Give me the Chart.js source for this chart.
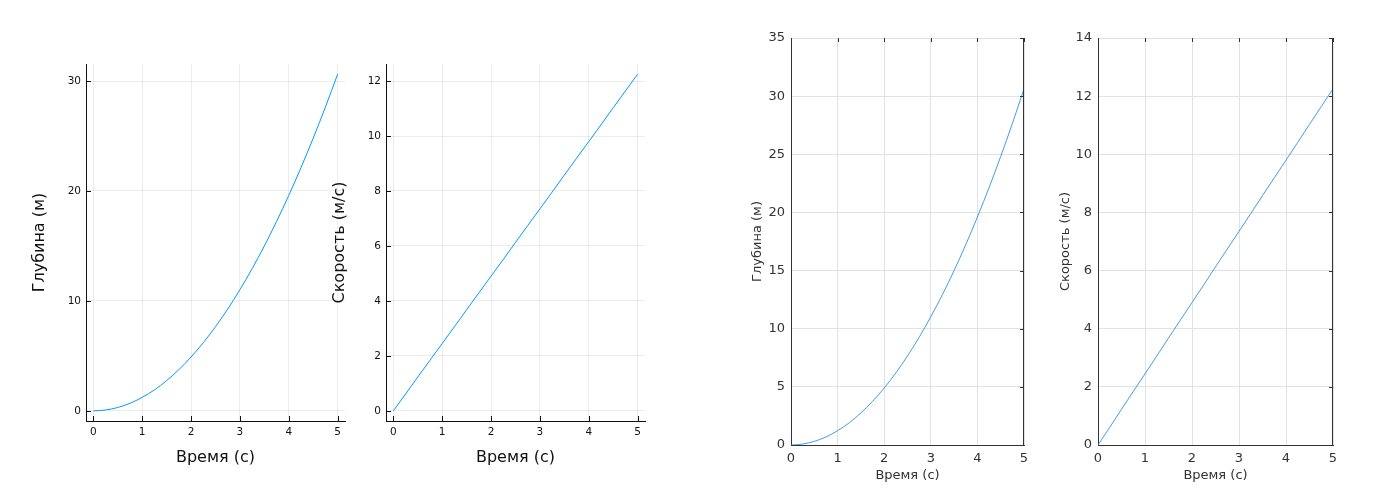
<!DOCTYPE html>
<html>
<head>
<meta charset="utf-8">
<script src="https://cdn.jsdelivr.net/npm/chart.js@4"></script>
<style>
  body { margin: 0; background: #fff; }
  #wrap { position: relative; width: 1400px; height: 500px; overflow: hidden; }
  canvas { position: absolute; top: 0; }
</style>
</head>
<body>
<div id="wrap">
  <canvas id="c1" width="360" height="500" style="left:0px"></canvas>
  <canvas id="c2" width="360" height="500" style="left:300px"></canvas>
  <canvas id="c3" width="340" height="500" style="left:700px"></canvas>
  <canvas id="c4" width="350" height="500" style="left:1010px"></canvas>
</div>
<script>
// values
const times = [0, 0.25, 0.5, 0.75, 1, 1.25, 1.5, 1.75, 2, 2.25, 2.5, 2.75, 3, 3.25, 3.5, 3.75, 4, 4.25, 4.5, 4.75, 5];
const depth = [0, 0.08, 0.31, 0.69, 1.23, 1.91, 2.76, 3.75, 4.9, 6.2, 7.66, 9.26, 11.03, 12.94, 15.0, 17.23, 19.6, 22.13, 24.81, 27.64, 30.63];
const speed = [0, 0.61, 1.23, 1.84, 2.45, 3.06, 3.68, 4.29, 4.9, 5.51, 6.13, 6.74, 7.35, 7.96, 8.58, 9.19, 9.8, 10.41, 11.03, 11.64, 12.25];

const xTicks = [0, 1, 2, 3, 4, 5];
const depthTicksLeft = [0, 10, 20, 30];
const speedTicksLeft = [0, 2, 4, 6, 8, 10, 12];
const depthTicksRight = [0, 5, 10, 15, 20, 25, 30, 35];
const speedTicksRight = [0, 2, 4, 6, 8, 10, 12, 14];

const xTitle = 'Время (с)';
const depthTitle = 'Глубина (м)';
const speedTitle = 'Скорость (м/с)';

// short inward tick marks (and optional right frame line)
const tickMarks = {
  id: 'tickMarks',
  afterDraw(chart, args, o) {
    const {ctx, chartArea: a, scales: {x, y}} = chart;
    const len = o.len || 5;
    ctx.save();
    ctx.strokeStyle = o.color || '#222';
    ctx.lineWidth = 1;
    ctx.beginPath();
    if (o.frameRight) {
      ctx.moveTo(Math.round(a.right) - 0.5, a.top);
      ctx.lineTo(Math.round(a.right) - 0.5, a.bottom);
    }
    x.ticks.forEach(t => {
      const px = Math.round(x.getPixelForValue(t.value)) + 0.5;
      if (o.sides.includes('bottom')) { ctx.moveTo(px, a.bottom); ctx.lineTo(px, a.bottom - len); }
      if (o.sides.includes('top')) { ctx.moveTo(px, a.top); ctx.lineTo(px, a.top + len); }
    });
    y.ticks.forEach(t => {
      const py = Math.round(y.getPixelForValue(t.value)) + 0.5;
      if (o.sides.includes('left')) { ctx.moveTo(a.left, py); ctx.lineTo(a.left + len, py); }
      if (o.sides.includes('right')) { ctx.moveTo(a.right, py); ctx.lineTo(a.right - len, py); }
    });
    ctx.stroke();
    ctx.restore();
  }
};

function makeChart(id, ys, s) {
  const pts = times.map((t, i) => ({x: t, y: ys[i]}));
  const font = {family: 'DejaVu Sans', size: s.tickSize};
  const tfont = {family: 'DejaVu Sans', size: s.titleSize};
  return new Chart(document.getElementById(id), {
    type: 'line',
    data: {
      datasets: [{
        data: pts,
        borderColor: s.lineColor,
        borderWidth: s.lineWidth,
        pointRadius: 0,
        cubicInterpolationMode: 'monotone',
        fill: false
      }]
    },
    options: {
      responsive: false,
      animation: false,
      events: [],
      layout: { padding: { left: 0, right: s.padRight, top: s.padTop, bottom: 0 } },
      plugins: {
        legend: { display: false },
        tooltip: { enabled: false },
        tickMarks: s.marks
      },
      scales: {
        x: {
          type: 'linear',
          min: s.xMin, max: s.xMax,
          afterBuildTicks: sc => { sc.ticks = xTicks.map(v => ({value: v})); },
          afterFit: sc => { sc.height = s.xHeight; },
          ticks: { font: font, color: s.tickColor, padding: s.xPad, maxRotation: 0, autoSkip: false },
          grid: { color: s.gridColor, drawTicks: false, lineWidth: 1 },
          border: { display: true, color: s.axisColor, width: 1 },
          title: { display: true, text: xTitle, font: tfont, color: s.tickColor, padding: { top: 0, bottom: s.xTitlePad } }
        },
        y: {
          type: 'linear',
          min: s.yMin, max: s.yMax,
          afterBuildTicks: sc => { sc.ticks = s.yTicks.map(v => ({value: v})); },
          afterFit: sc => { sc.width = s.yWidth; },
          ticks: { font: font, color: s.tickColor, padding: s.yPad, autoSkip: false },
          grid: { color: s.gridColor, drawTicks: false, lineWidth: 1 },
          border: { display: true, color: s.axisColor, width: 1 },
          title: { display: true, text: s.yTitle, font: tfont, color: s.tickColor, padding: { top: s.yTitlePad, bottom: 0 } }
        }
      }
    },
    plugins: [tickMarks]
  });
}

// left pair (GR look)
const grStyle = {
  tickSize: 10.5, titleSize: 16, tickColor: '#111', axisColor: '#111',
  gridColor: 'rgba(0,0,0,0.07)', lineColor: '#009af9', lineWidth: 1,
  padRight: 15, padTop: 64, xHeight: 79, yWidth: 86,
  xPad: 5, yPad: 5, xTitlePad: 33, yTitlePad: 30,
  xMin: -0.15, xMax: 5.15,
  marks: { sides: ['bottom', 'left'], len: 5, color: '#111' }
};
makeChart('c1', depth, Object.assign({}, grStyle, {
  yMin: -0.92, yMax: 31.55, yTicks: depthTicksLeft, yTitle: depthTitle
}));
makeChart('c2', speed, Object.assign({}, grStyle, {
  yMin: -0.37, yMax: 12.62, yTicks: speedTicksLeft, yTitle: speedTitle
}));

// right pair (boxed look)
const boxStyle = {
  tickSize: 13, titleSize: 13, tickColor: '#333', axisColor: '#333',
  gridColor: '#e2e2e2', lineColor: '#2b93dc', lineWidth: 0.9,
  padTop: 38, xHeight: 55,
  xPad: 6, yPad: 6, xTitlePad: 17,
  xMin: 0, xMax: 5, yMin: 0,
  marks: { sides: ['top', 'right'], len: 4, color: '#333', frameRight: true }
};
makeChart('c3', depth, Object.assign({}, boxStyle, {
  padRight: 16, yWidth: 91, yTitlePad: 50,
  yMax: 35, yTicks: depthTicksRight, yTitle: depthTitle
}));
makeChart('c4', speed, Object.assign({}, boxStyle, {
  padRight: 27, yWidth: 88, yTitlePad: 48,
  yMax: 14, yTicks: speedTicksRight, yTitle: speedTitle
}));
</script>
</body>
</html>
